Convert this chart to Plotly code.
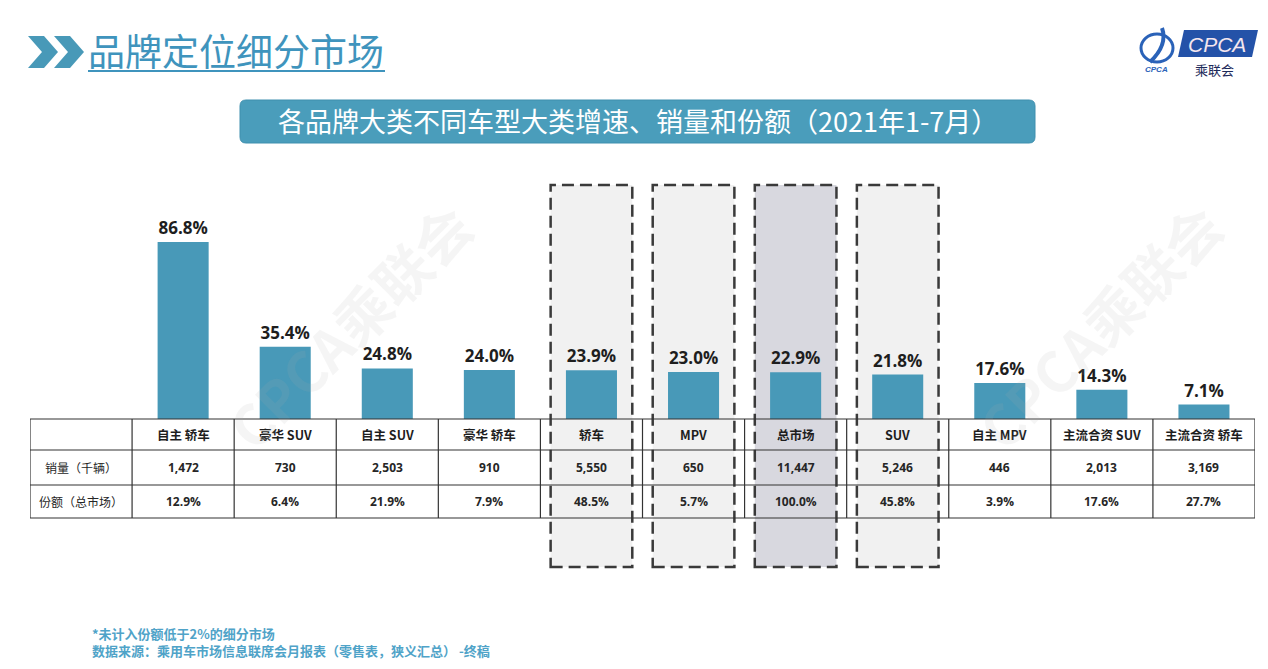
import plotly.graph_objects as go

# ---- data ----
categories = ["自主 轿车", "豪华 SUV", "自主 SUV", "豪华 轿车", "轿车", "MPV",
              "总市场", "SUV", "自主 MPV", "主流合资 SUV", "主流合资 轿车"]
growth = [86.8, 35.4, 24.8, 24.0, 23.9, 23.0, 22.9, 21.8, 17.6, 14.3, 7.1]
sales = [1472, 730, 2503, 910, 5550, 650, 11447, 5246, 446, 2013, 3169]
share = [12.9, 6.4, 21.9, 7.9, 48.5, 5.7, 100.0, 45.8, 3.9, 17.6, 27.7]
row_labels = ["销量（千辆）", "份额（总市场）"]
highlight = ["轿车", "MPV", "SUV"]
highlight_total = "总市场"

W, H = 1268, 669
OFF = 8  # page body margin
TEAL = "#4899b8"
CJK = "Noto Sans CJK SC"


def py(p):  # pixel row in the window -> paper y
    return 1 - (p - OFF) / H


def px(p):  # pixel col in the window -> paper x
    return (p - OFF) / W


def note(x, y, text, size, color, family=CJK, xanchor="center", xref="paper", **kw):
    d = dict(x=x, y=y, xref=xref, yref="paper", text=text, showarrow=False,
             xanchor=xanchor, yanchor="middle",
             font=dict(family=family, size=size, color=color))
    d.update(kw)
    return d


# table rows (pixel y of lines)
t_top, t_h1, t_h2, t_bot = 419, 450, 485, 518

fig = go.Figure()
fig.add_trace(go.Bar(
    x=categories, y=growth, width=0.5,
    marker=dict(color=TEAL, line=dict(width=0)),
    texttemplate="<b>%{y:.1f}%</b>", textposition="outside",
    textfont=dict(family="Open Sans", size=17, color="#1e1e1e"),
    cliponaxis=False, hoverinfo="skip",
))

shapes = []
annotations = []

# highlighted columns (dashed boxes)
for i, c in enumerate(categories):
    if c in highlight or c == highlight_total:
        fill = "#d8d8df" if c == highlight_total else "#f1f1f1"
        shapes.append(dict(type="rect", xref="x", yref="paper", layer="below",
                           x0=i - 0.4, x1=i + 0.4, y0=py(567), y1=py(185),
                           fillcolor=fill, line=dict(width=0)))
        shapes.append(dict(type="rect", xref="x", yref="paper", layer="above",
                           x0=i - 0.4, x1=i + 0.4, y0=py(567), y1=py(185),
                           fillcolor="rgba(0,0,0,0)",
                           line=dict(color="#3a3a3a", width=2.5, dash="12px,6px")))

# table grid
line_c = dict(color="#333333", width=1.2)
for yy in (t_top, t_h1, t_h2, t_bot):
    shapes.append(dict(type="line", xref="x", yref="paper", x0=-1.5, x1=len(categories) - 0.5,
                       y0=py(yy), y1=py(yy), line=line_c, layer="above"))
for k in range(-1, len(categories) + 1):
    shapes.append(dict(type="line", xref="x", yref="paper", x0=k - 0.5, x1=k - 0.5,
                       y0=py(t_bot), y1=py(t_top), line=line_c, layer="above"))

# table text
for i, c in enumerate(categories):
    annotations.append(note(i, py((t_top + t_h1) / 2), "<b>%s</b>" % c, 12.5, "#1e1e1e", xref="x"))
    annotations.append(note(i, py((t_h1 + t_h2) / 2), "<b>{:,}</b>".format(sales[i]), 12,
                            "#262626", family="Open Sans", xref="x"))
    annotations.append(note(i, py((t_h2 + t_bot) / 2), "<b>{:.1f}%</b>".format(share[i]), 12,
                            "#262626", family="Open Sans", xref="x"))
for j, lab in enumerate(row_labels):
    yc = (t_h1 + t_h2) / 2 if j == 0 else (t_h2 + t_bot) / 2
    annotations.append(note(-1, py(yc), lab, 12, "#262626", xref="x"))

# watermarks
for wx in (348, 1098):
    annotations.append(note(px(wx), py(325), "<b>CPCA乘联会</b>", 56,
                            "rgba(170,170,170,0.12)", textangle=-45))

# header: chevrons + title
for off in (0, 26):
    x0 = 28 + off
    shapes.append(dict(type="path", xref="paper", yref="paper", layer="above",
                       path="M {} {} L {} {} L {} {} L {} {} L {} {} L {} {} Z".format(
                           px(x0), py(36), px(x0 + 16), py(36), px(x0 + 30), py(52),
                           px(x0 + 16), py(68), px(x0), py(68), px(x0 + 14), py(52)),
                       fillcolor=TEAL, line=dict(width=0)))
annotations.append(note(px(86), py(50), "品牌定位细分市场", 37, "#3f94bd", xanchor="left"))
shapes.append(dict(type="line", xref="paper", yref="paper", x0=px(88), x1=px(385),
                   y0=py(71), y1=py(71), line=dict(color="#3f94bd", width=2)))

# banner
r = 6
bx0, bx1, by0, by1 = 240, 1035, 100, 143
path = ("M {a} {b} L {c} {b} Q {d} {b} {d} {e} L {d} {f} Q {d} {g} {c} {g} "
        "L {a} {g} Q {h} {g} {h} {f} L {h} {e} Q {h} {b} {a} {b} Z").format(
    a=px(bx0 + r), b=py(by0), c=px(bx1 - r), d=px(bx1), e=py(by0 + r),
    f=py(by1 - r), g=py(by1), h=px(bx0))
shapes.append(dict(type="path", xref="paper", yref="paper", path=path,
                   fillcolor="#4a9dbb", line=dict(color="#3f8fae", width=1)))
annotations.append(note(px(638), py(121), "各品牌大类不同车型大类增速、销量和份额（2021年1-7月）",
                        27, "white"))

# logo
shapes.append(dict(type="path", xref="paper", yref="paper",
                   path="M {} {} L {} {} L {} {} L {} {} Z".format(
                       px(1184), py(30), px(1258), py(30), px(1252), py(57), px(1178), py(57)),
                   fillcolor="#2452a8", line=dict(width=0)))
annotations.append(note(px(1217), py(44), "<i>CPCA</i>", 21, "#f4e6ee", family="Liberation Sans"))
annotations.append(note(px(1214), py(70), "乘联会", 13, "#1d2a5a"))
shapes.append(dict(type="circle", xref="paper", yref="paper", x0=px(1141), x1=px(1173),
                   y0=py(62), y1=py(34), line=dict(color="#2a62b8", width=3)))
shapes.append(dict(type="path", xref="paper", yref="paper",
                   path="M {} {} Q {} {} {} {}".format(px(1150), py(62), px(1168), py(45), px(1162), py(28)),
                   line=dict(color="#2a62b8", width=4)))
annotations.append(note(px(1156), py(70), "<b><i>CPCA</i></b>", 8, "#2a62b8", family="Liberation Sans"))

# footnotes
annotations.append(note(px(90), py(633), "<b>*未计入份额低于2%的细分市场</b>", 13, "#4fa3c8",
                        xanchor="left"))
annotations.append(note(px(90), py(650),
                        "<b>数据来源：乘用车市场信息联席会月报表（零售表，狭义汇总） -终稿</b>",
                        13, "#4fa3c8", xanchor="left"))

fig.update_layout(
    width=W, height=H,
    margin=dict(l=0, r=0, t=0, b=0),
    paper_bgcolor="white", plot_bgcolor="rgba(0,0,0,0)",
    showlegend=False,
    xaxis=dict(domain=[px(30), px(1255)], range=[-1.5, len(categories) - 0.5],
               showticklabels=False, showgrid=False, zeroline=False, showline=False,
               fixedrange=True),
    yaxis=dict(domain=[py(t_top), py(t_top - 204)], range=[0, 100],
               showticklabels=False, showgrid=False, zeroline=False, showline=False,
               fixedrange=True),
    shapes=shapes, annotations=annotations,
)

fig.write_html("out.html")
